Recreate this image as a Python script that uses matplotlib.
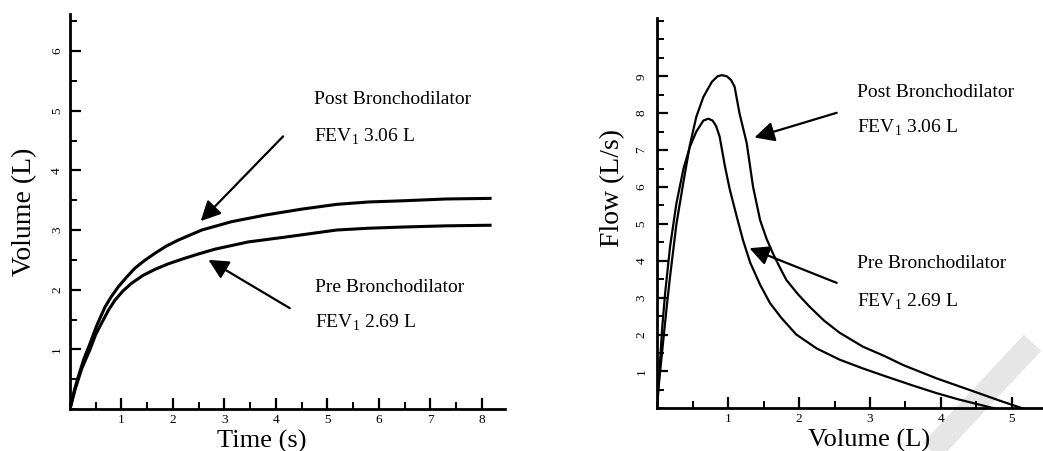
import numpy as np
import matplotlib.pyplot as plt
from matplotlib.lines import Line2D
from matplotlib.ticker import MultipleLocator

plt.rcParams['font.family'] = ['Liberation Serif', 'DejaVu Serif']
plt.rcParams['mathtext.fontset'] = 'custom'
plt.rcParams['mathtext.rm'] = 'Liberation Serif'

# Volume-time curves (s, L)
time_post = [0, 0.08, 0.16, 0.27, 0.39, 0.52, 0.68, 0.80, 0.94, 1.10, 1.26, 1.45, 1.65, 1.87,
             2.10, 2.56, 3.14, 3.79, 4.50, 5.18, 5.80, 6.47, 7.30, 8.16]
vol_post = [0, 0.30, 0.54, 0.84, 1.10, 1.40, 1.71, 1.88, 2.05, 2.21, 2.36, 2.49, 2.61, 2.73,
            2.83, 3.00, 3.14, 3.25, 3.35, 3.43, 3.47, 3.49, 3.52, 3.53]
time_pre = [0, 0.10, 0.23, 0.39, 0.50, 0.62, 0.75, 0.87, 1.03, 1.20, 1.42, 1.65, 1.90, 2.17,
            2.50, 2.82, 3.46, 4.17, 5.18, 5.80, 6.47, 7.30, 8.16]
vol_pre = [0, 0.33, 0.68, 1.00, 1.25, 1.45, 1.66, 1.82, 1.98, 2.11, 2.24, 2.34, 2.43, 2.51,
           2.60, 2.68, 2.80, 2.88, 3.00, 3.03, 3.05, 3.07, 3.08]

# Flow-volume curves (L, L/s)
fv_vol_post = [0, 0.01, 0.04, 0.08, 0.13, 0.18, 0.27, 0.37, 0.46, 0.55, 0.65, 0.77, 0.85, 0.91,
               0.98, 1.04, 1.09, 1.16, 1.26, 1.35, 1.45, 1.54, 1.63, 1.72, 1.82, 1.98, 2.15,
               2.35, 2.57, 2.90, 3.20, 3.47, 3.94, 4.40, 4.87, 5.15]
fv_flow_post = [0, 0.41, 1.00, 1.76, 2.70, 3.57, 5.00, 6.15, 7.14, 7.90, 8.44, 8.85, 9.00, 9.03,
                9.00, 8.90, 8.72, 7.99, 7.20, 6.01, 5.10, 4.60, 4.20, 3.85, 3.48, 3.10, 2.75,
                2.38, 2.05, 1.67, 1.42, 1.17, 0.81, 0.50, 0.18, 0.0]
fv_vol_pre = [0, 0.02, 0.04, 0.07, 0.11, 0.18, 0.27, 0.37, 0.46, 0.55, 0.65, 0.72, 0.78, 0.83,
              0.88, 0.95, 1.02, 1.12, 1.21, 1.31, 1.45, 1.59, 1.75, 1.96, 2.25, 2.57, 2.90,
              3.23, 3.60, 3.94, 4.25, 4.54, 4.75]
fv_flow_pre = [0, 0.70, 1.31, 2.20, 3.11, 4.38, 5.56, 6.50, 7.09, 7.50, 7.80, 7.85, 7.80, 7.65,
               7.36, 6.60, 5.95, 5.20, 4.55, 3.95, 3.35, 2.85, 2.45, 2.00, 1.62, 1.32, 1.08,
               0.86, 0.62, 0.41, 0.24, 0.10, 0.0]

post_label = 'Post Bronchodilator'
pre_label = 'Pre Bronchodilator'
fev_post = r'FEV$_\mathrm{1}$ 3.06 L'
fev_pre = r'FEV$_\mathrm{1}$ 2.69 L'

fig = plt.figure(figsize=(10.43, 4.51), dpi=100)

# faint watermark stripe at the lower right corner
fig.add_artist(Line2D([0.99, 0.893], [0.24, 0.0], transform=fig.transFigure,
                      color='#e6e6e6', lw=17, solid_capstyle='butt', zorder=0))

ax1 = fig.add_axes([0.0671, 0.0931, 0.4171, 0.8758])
ax2 = fig.add_axes([0.6302, 0.0947, 0.3698, 0.8654])


def style_axis(ax, xmaj, ymaj, ypad):
    ax.patch.set_alpha(0)
    for s in ['top', 'right']:
        ax.spines[s].set_visible(False)
    for s in ['left', 'bottom']:
        ax.spines[s].set_linewidth(2)
    ax.set_xticks(xmaj)
    ax.set_yticks(ymaj)
    ax.xaxis.set_minor_locator(MultipleLocator(0.5))
    ax.yaxis.set_minor_locator(MultipleLocator(0.5))
    ax.tick_params(which='major', direction='in', length=8, width=1.6, labelsize=9.5)
    ax.tick_params(which='minor', direction='in', length=5, width=1.4)
    ax.tick_params(axis='x', pad=3.5)
    ax.tick_params(axis='y', pad=ypad)
    for lab in ax.get_yticklabels():
        lab.set_rotation(90)
        lab.set_va('center')


# left: volume-time
ax1.plot(time_post, vol_post, color='black', lw=2.2)
ax1.plot(time_pre, vol_pre, color='black', lw=2.2)
ax1.set_xlim(0, 8.45)
ax1.set_ylim(0, 6.62)
style_axis(ax1, range(1, 9), range(1, 7), 5)
ax1.set_xlabel('Time (s)', fontsize=19)
ax1.xaxis.set_label_coords(0.44, -0.082, transform=ax1.transAxes)
ax1.xaxis.label.set_va('center')
ax1.set_ylabel('Volume (L)', fontsize=20)
ax1.yaxis.set_label_coords(-0.075, 0.5)

arrow = dict(arrowstyle='-|>', mutation_scale=30, lw=1.6, color='black',
             shrinkA=0, shrinkB=0)
ax1.annotate('', xy=(2.54, 3.15), xytext=(4.14, 4.57), arrowprops=arrow)
ax1.annotate('', xy=(2.69, 2.50), xytext=(4.27, 1.69), arrowprops=arrow)
ax1.text(4.74, 5.18, post_label, fontsize=14, va='center', ha='left')
ax1.text(4.74, 4.56, fev_post, fontsize=14, va='center', ha='left')
ax1.text(4.76, 2.04, pre_label, fontsize=14, va='center', ha='left')
ax1.text(4.76, 1.44, fev_pre, fontsize=14, va='center', ha='left')

# right: flow-volume
ax2.plot(fv_vol_post, fv_flow_post, color='black', lw=1.6)
ax2.plot(fv_vol_pre, fv_flow_pre, color='black', lw=1.6)
ax2.set_xlim(0, 5.44)
ax2.set_ylim(0, 10.58)
style_axis(ax2, range(1, 6), range(1, 10), 7)
ax2.set_xlabel('Volume (L)', fontsize=19)
ax2.xaxis.set_label_coords(0.55, -0.083, transform=ax2.transAxes)
ax2.xaxis.label.set_va('center')
ax2.set_ylabel('Flow (L/s)', fontsize=20)
ax2.yaxis.set_label_coords(-0.083, 0.565)

ax2.annotate('', xy=(1.37, 7.34), xytext=(2.53, 8.01), arrowprops=arrow)
ax2.annotate('', xy=(1.30, 4.34), xytext=(2.53, 3.40), arrowprops=arrow)
ax2.text(2.82, 8.55, post_label, fontsize=14, va='center', ha='left')
ax2.text(2.82, 7.60, fev_post, fontsize=14, va='center', ha='left')
ax2.text(2.82, 3.93, pre_label, fontsize=14, va='center', ha='left')
ax2.text(2.82, 2.89, fev_pre, fontsize=14, va='center', ha='left')

fig.savefig('out.png', dpi=100)
